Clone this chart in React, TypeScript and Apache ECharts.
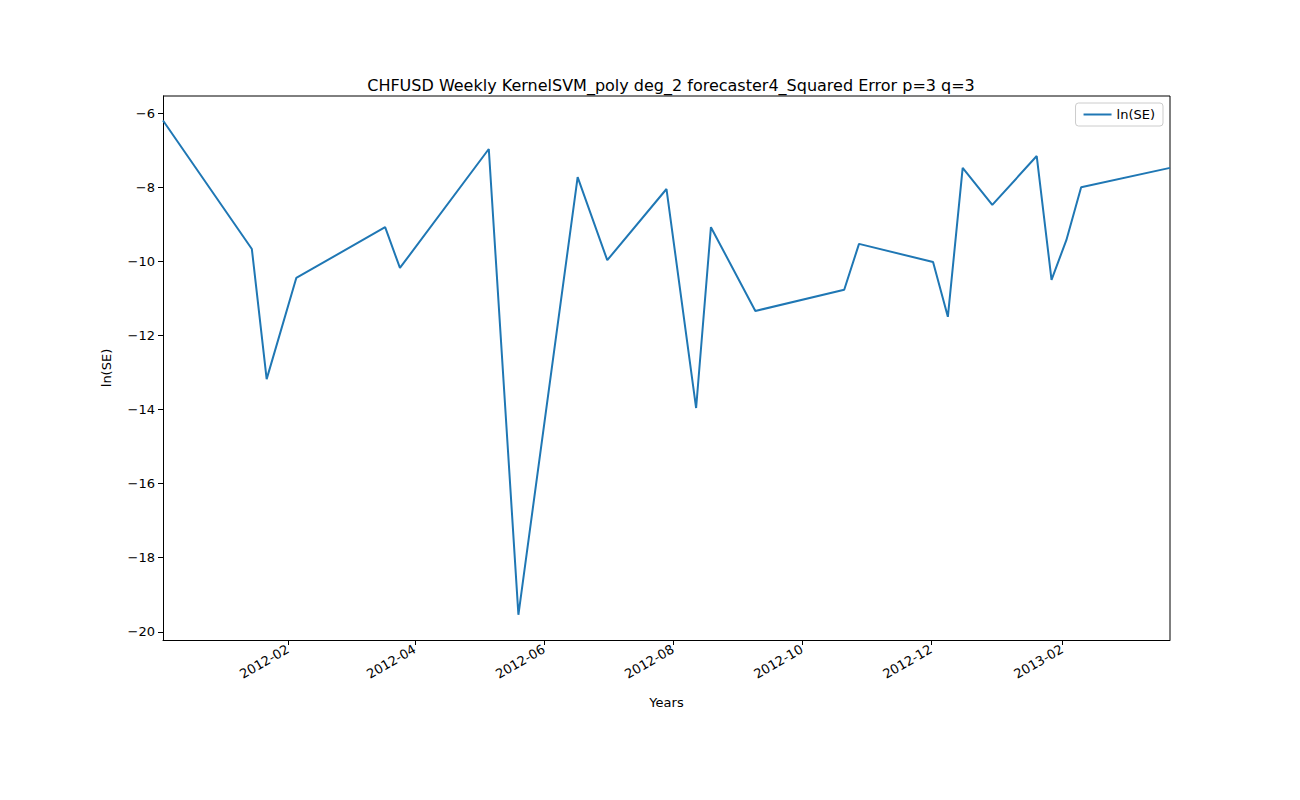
import { useEffect, useRef } from "react"
import * as echarts from "echarts"

const dates = [
  "2011-12-04", "2012-01-15", "2012-01-22", "2012-02-05", "2012-03-18", "2012-03-25",
  "2012-05-06", "2012-05-20", "2012-06-17", "2012-07-01", "2012-07-29", "2012-08-12",
  "2012-08-19", "2012-09-09", "2012-10-21", "2012-10-28", "2012-12-02", "2012-12-09",
  "2012-12-16", "2012-12-30", "2013-01-20", "2013-01-27", "2013-02-03", "2013-02-10",
  "2013-03-24",
]
const lnSE = [
  -6.2, -9.67, -13.18, -10.45, -9.08, -10.18,
  -6.97, -19.54, -7.73, -9.97, -8.05, -13.96,
  -9.08, -11.34, -10.77, -9.53, -10.02, -11.5,
  -7.48, -8.48, -7.16, -10.5, -9.43, -8.0,
  -7.48,
]
const monthTicks = ["2012-02-01", "2012-04-01", "2012-06-01", "2012-08-01", "2012-10-01", "2012-12-01", "2013-02-01"]
const yTicks = [-20, -18, -16, -14, -12, -10, -8, -6]

const ts = (d: string) => new Date(d + "T00:00:00Z").getTime()

export default function App() {
  const ref = useRef<HTMLDivElement>(null)

  useEffect(() => {
    if (!ref.current) return
    const chart = echarts.init(ref.current, null, { renderer: "svg" })
    const axisText = { color: "#000", fontSize: 13, fontFamily: "DejaVu Sans" }
    chart.setOption({
      animation: false,
      textStyle: { fontFamily: "DejaVu Sans" },
      title: {
        text: "CHFUSD Weekly KernelSVM_poly deg_2 forecaster4_Squared Error p=3 q=3",
        left: 666,
        textAlign: "center",
        top: 72,
        textStyle: { fontSize: 16, fontWeight: "normal", color: "#000", fontFamily: "DejaVu Sans" },
      },
      legend: {
        data: ["ln(SE)"],
        right: 137,
        top: 103,
        orient: "vertical",
        borderColor: "#ccc",
        borderWidth: 1,
        borderRadius: 3,
        padding: [5, 8],
        itemWidth: 28,
        itemHeight: 2,
        icon: "rect",
        textStyle: { fontSize: 13, color: "#000" },
      },
      grid: { left: 163, right: 130, top: 96, bottom: 160 },
      xAxis: {
        type: "value",
        min: ts("2011-12-04"),
        max: ts("2013-03-24"),
        name: "Years",
        nameLocation: "middle",
        nameGap: 56,
        nameTextStyle: axisText,
        axisLine: { lineStyle: { color: "#000" } },
        axisTick: { show: true, customValues: monthTicks.map(ts), length: 5, lineStyle: { color: "#000" } },
        axisLabel: {
          ...axisText,
          customValues: monthTicks.map(ts),
          rotate: 30,
          formatter: (v: number) => {
            const d = new Date(v)
            return d.getUTCFullYear() + "-" + String(d.getUTCMonth() + 1).padStart(2, "0")
          },
        },
        splitLine: { show: false },
      },
      yAxis: {
        type: "value",
        min: -20.22,
        max: -5.54,
        name: "ln(SE)",
        nameLocation: "middle",
        nameGap: 50,
        nameTextStyle: axisText,
        axisLine: { show: true, lineStyle: { color: "#000" } },
        axisTick: { show: true, customValues: yTicks, length: 5, lineStyle: { color: "#000" } },
        axisLabel: { ...axisText, customValues: yTicks, formatter: (v: number) => (v < 0 ? "\u2212" + Math.abs(v) : String(v)) },
        splitLine: { show: false },
      },
      series: [
        {
          name: "ln(SE)",
          type: "line",
          data: dates.map((d, i) => [ts(d), lnSE[i]]),
          symbol: "none",
          lineStyle: { color: "#1f77b4", width: 2 },
          itemStyle: { color: "#1f77b4" },
        },
      ],
      graphic: [
        { type: "line", shape: { x1: 163, y1: 96, x2: 1170, y2: 96 }, style: { stroke: "#000", lineWidth: 1 } },
        { type: "line", shape: { x1: 1170, y1: 96, x2: 1170, y2: 640 }, style: { stroke: "#000", lineWidth: 1 } },
      ],
    })
    return () => chart.dispose()
  }, [])

  return <div ref={ref} style={{ width: 1300, height: 800, margin: -8 }} />
}
